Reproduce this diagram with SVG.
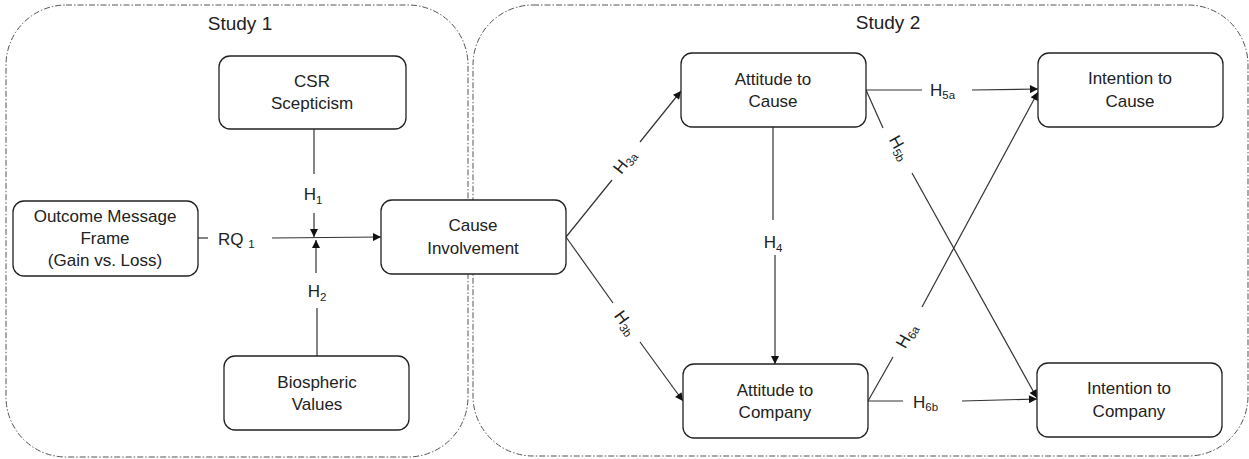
<svg xmlns="http://www.w3.org/2000/svg" width="1249" height="459" viewBox="0 0 1249 459">
<style>
.bg{fill:#fff}
.study{fill:none;stroke:#555;stroke-width:1;stroke-dasharray:6 2 1.5 2}
.node rect{fill:#fff;stroke:#222;stroke-width:1.3}
text{font-family:"Liberation Sans",Arial,sans-serif;font-size:17px;fill:#222}
.node text{text-anchor:middle}
.lbl{text-anchor:middle}
.sub{font-size:11.5px}
.edge{fill:none;stroke:#333;stroke-width:1.2}
.title{font-size:19px}
</style>
<defs>
<marker id="arr" viewBox="0 0 10 10" refX="10" refY="5" markerWidth="9" markerHeight="8" markerUnits="userSpaceOnUse" orient="auto">
<path d="M0,0 L10,5 L0,10 z" fill="#111"/>
</marker>
</defs>
<rect class="bg" x="0" y="0" width="1249" height="459"/>
<g id="study1">
<rect class="study" x="6" y="5" width="462" height="452" rx="60" ry="60"/>
<text class="title" x="240" y="30" text-anchor="middle">Study 1</text>
</g>
<g id="study2">
<rect class="study" x="473" y="5" width="775" height="451" rx="60" ry="60"/>
<text class="title" x="888" y="29" text-anchor="middle">Study 2</text>
</g>
<g id="connectors">
<path class="edge" d="M198,238 L208,238"/>
<text x="218" y="245">RQ <tspan class="sub" dy="3">1</tspan></text>
<path class="edge" d="M272,238 L381,237" marker-end="url(#arr)"/>
<path class="edge" d="M314,129 L314,174"/>
<text class="lbl" x="313" y="200">H<tspan class="sub" dy="4">1</tspan></text>
<path class="edge" d="M314,213 L314,237" marker-end="url(#arr)"/>
<path class="edge" d="M317,356 L317,308"/>
<text class="lbl" x="317" y="297">H<tspan class="sub" dy="4">2</tspan></text>
<path class="edge" d="M316,273 L316,240" marker-end="url(#arr)"/>
<path class="edge" d="M566,237 L612,180"/>
<path class="edge" d="M640,142 L681,91" marker-end="url(#arr)"/>
<g transform="translate(625,162) rotate(-52)"><text class="lbl" x="0" y="5">H<tspan class="sub" dy="3">3a</tspan></text></g>
<path class="edge" d="M566,237 L613,303"/>
<path class="edge" d="M640,342 L683,401" marker-end="url(#arr)"/>
<g transform="translate(625,323) rotate(54)"><text class="lbl" x="0" y="5">H<tspan class="sub" dy="3">3b</tspan></text></g>
<path class="edge" d="M773,127 L773,220"/>
<text class="lbl" x="773" y="248">H<tspan class="sub" dy="4">4</tspan></text>
<path class="edge" d="M775,255 L775,364" marker-end="url(#arr)"/>
<path class="edge" d="M866,90 L922,90"/>
<text x="930" y="96">H<tspan class="sub" dy="3">5a</tspan></text>
<path class="edge" d="M972,90 L1038,89" marker-end="url(#arr)"/>
<path class="edge" d="M866,90 L883,128"/>
<path class="edge" d="M912,173 L1037,398" marker-end="url(#arr)"/>
<g transform="translate(899,148) rotate(61)"><text class="lbl" x="0" y="5">H<tspan class="sub" dy="3">5b</tspan></text></g>
<path class="edge" d="M868,401 L893,357"/>
<path class="edge" d="M922,307 L1038,92" marker-end="url(#arr)"/>
<g transform="translate(907,336) rotate(-61)"><text class="lbl" x="0" y="5">H<tspan class="sub" dy="3">6a</tspan></text></g>
<path class="edge" d="M868,401 L903,401"/>
<text x="913" y="408">H<tspan class="sub" dy="3">6b</tspan></text>
<path class="edge" d="M962,401 L1037,399" marker-end="url(#arr)"/>
</g>
<g id="csr" class="node">
<rect x="219" y="56" width="187" height="73" rx="11"/>
<text x="312" y="87">CSR</text>
<text x="312" y="109">Scepticism</text>
</g>
<g id="outcome" class="node">
<rect x="13" y="201" width="185" height="75" rx="11"/>
<text x="105" y="222">Outcome Message</text>
<text x="105" y="244">Frame</text>
<text x="105" y="266">(Gain vs. Loss)</text>
</g>
<g id="biospheric" class="node">
<rect x="224" y="356" width="185" height="74" rx="11"/>
<text x="317" y="388">Biospheric</text>
<text x="317" y="410">Values</text>
</g>
<g id="involvement" class="node">
<rect x="381" y="200" width="185" height="74" rx="11"/>
<text x="473" y="231">Cause</text>
<text x="473" y="254">Involvement</text>
</g>
<g id="att-cause" class="node">
<rect x="681" y="53" width="185" height="74" rx="11"/>
<text x="773" y="85">Attitude to</text>
<text x="773" y="107">Cause</text>
</g>
<g id="att-company" class="node">
<rect x="683" y="364" width="185" height="74" rx="11"/>
<text x="775" y="396">Attitude to</text>
<text x="775" y="418">Company</text>
</g>
<g id="int-cause" class="node">
<rect x="1038" y="53" width="185" height="74" rx="11"/>
<text x="1130" y="84">Intention to</text>
<text x="1130" y="107">Cause</text>
</g>
<g id="int-company" class="node">
<rect x="1037" y="363" width="185" height="74" rx="11"/>
<text x="1129" y="394">Intention to</text>
<text x="1129" y="417">Company</text>
</g>
</svg>
